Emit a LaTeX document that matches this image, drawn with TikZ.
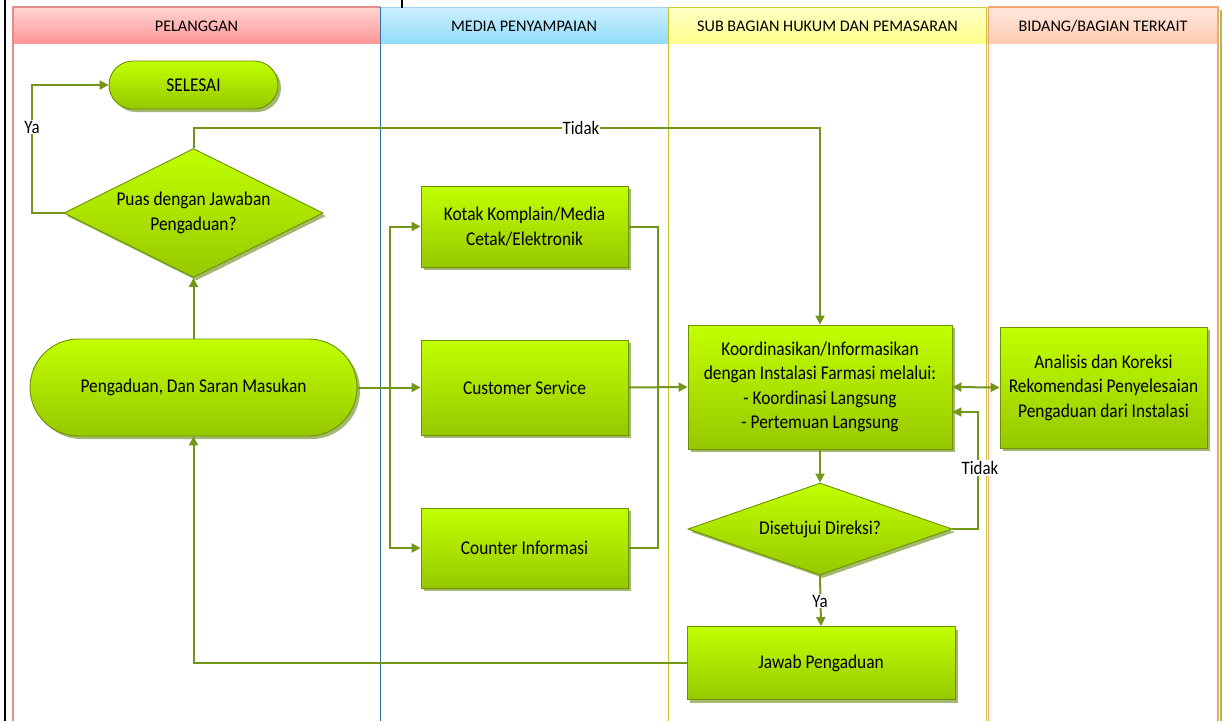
\documentclass[tikz,border=0pt]{standalone}
\usepackage{fontspec}
\setmainfont{Carlito}
\newfontfamily\nodefont[FakeStretch=0.89]{Carlito}
\usetikzlibrary{shapes.geometric,shapes.misc,shadows,arrows.meta}
\definecolor{lineg}{HTML}{72951A}
\definecolor{nodetop}{HTML}{C2FF00}
\definecolor{nodebot}{HTML}{96C800}
\definecolor{nodeborder}{HTML}{6F9000}
\definecolor{shadowg}{HTML}{A3B870}
\begin{document}
\begin{tikzpicture}[x=1pt,y=-1pt,
  nodefill/.style={top color=nodetop, bottom color=nodebot, draw=nodeborder, line width=0.9pt,
    drop shadow={shadow xshift=3pt, shadow yshift=-3pt, fill=shadowg, opacity=1},
    align=center, font=\nodefont\fontsize{19.5}{24.5}\selectfont, inner sep=2pt},
  procbox/.style={nodefill, rectangle},
  pill/.style={nodefill, rounded rectangle},
  dia/.style={nodefill, diamond, aspect=2, inner sep=0pt},
  arr/.style={draw=lineg, line width=2pt, -{Triangle[length=9pt,width=9pt]}},
  arrtwo/.style={draw=lineg, line width=2pt, {Triangle[length=9pt,width=9pt]}-{Triangle[length=9pt,width=9pt]}},
  ln/.style={draw=lineg, line width=2pt},
  lbl/.style={fill=white, inner sep=1pt, font=\nodefont\fontsize{19}{20}\selectfont},
  hdr/.style={font=\fontsize{16.2}{18}\selectfont}
]
\useasboundingbox (0,0) rectangle (1230,721);
\fill[white] (0,0) rectangle (1230,721);

% lanes
\shade[top color={rgb,255:red,255;green,212;blue,212}, bottom color={rgb,255:red,255;green,150;blue,150}] (13,7) rectangle (380,43);
\shade[top color={rgb,255:red,205;green,240;blue,255}, bottom color={rgb,255:red,145;green,220;blue,248}] (380,7) rectangle (668,43);
\shade[top color={rgb,255:red,255;green,255;blue,200}, bottom color={rgb,255:red,255;green,255;blue,140}] (668,7) rectangle (987,43);
\shade[top color={rgb,255:red,255;green,232;blue,222}, bottom color={rgb,255:red,255;green,204;blue,178}] (987,7) rectangle (1218,43);

\draw[draw={rgb,255:red,226;green,140;blue,140}, line width=1.4pt] (13,721) -- (13,7) -- (380,7);
\draw[draw={rgb,255:red,160;green,215;blue,240}, line width=1pt] (380,7) -- (668,7);
\draw[draw={rgb,255:red,50;green,110;blue,160}, line width=0.9pt] (380,7) -- (380,721);
\draw[draw={rgb,255:red,205;green,205;blue,60}, line width=1pt] (668,7) -- (987,7);
\draw[draw={rgb,255:red,195;green,195;blue,40}, line width=0.9pt] (668,7) -- (668,721);
\draw[draw={rgb,255:red,200;green,200;blue,60}, line width=1pt] (986,7) -- (986,721);
\draw[draw={rgb,255:red,160;green,195;blue,80}, line width=1.5pt] (1221,10) -- (1221,721);
\draw[draw={rgb,255:red,244;green,165;blue,112}, line width=1.5pt] (988.5,721) -- (988.5,7) -- (1218,7) -- (1218,721);

\node[hdr] (h1) at (196.5,26) {PELANGGAN};
\node[hdr] (h2) at (524,26) {MEDIA PENYAMPAIAN};
\node[hdr] (h3) at (827.5,26) {SUB BAGIAN HUKUM DAN PEMASARAN};
\node[hdr] (h4) at (1103,26) {BIDANG/BAGIAN TERKAIT};

% black frame bits
\draw[line width=2pt] (5,0) -- (5,721);
\draw[line width=2pt] (402,0) -- (402,8);

% nodes
\node[pill, minimum width=173, minimum height=48] (selesai) at (193.5,85) {SELESAI};
\node[dia, minimum width=259, minimum height=129] (puas) at (193.5,213) {Puas dengan Jawaban\\Pengaduan?};
\node[pill, minimum width=331, minimum height=97] (pengaduan) at (193.5,387.5) {Pengaduan, Dan Saran Masukan};
\node[procbox, minimum width=207, minimum height=81] (kotak) at (524.5,226.5) {Kotak Komplain/Media\\Cetak/Elektronik};
\node[procbox, minimum width=207, minimum height=95] (cs) at (524.5,387.5) {Customer Service};
\node[procbox, minimum width=207, minimum height=80] (counter) at (524.5,548) {Counter Informasi};
\node[procbox, minimum width=264, minimum height=124] (koord) at (820,387) {Koordinasikan/Informasikan\\dengan Instalasi Farmasi melalui:\\- Koordinasi Langsung\\- Pertemuan Langsung};
\node[procbox, minimum width=207, minimum height=121] (analisis) at (1103.5,387.5) {Analisis dan Koreksi\\Rekomendasi Penyelesaian\\Pengaduan dari Instalasi};
\node[dia, minimum width=264, minimum height=92] (setuju) at (820,529) {Disetujui Direksi?};
\node[procbox, minimum width=268, minimum height=73] (jawab) at (821,663) {Jawab Pengaduan};

% connectors
\coordinate (yac) at (32,85);
\draw[arr] (puas.west) -| (yac) -- (selesai.west);
\node[lbl] (ya1) at (32,127) {Ya};

\coordinate (tc) at (193.5,128);
\draw[arr] (puas.north) -- (tc) -| (koord.north);
\node[lbl] (tidak1) at (581,128) {Tidak};

\draw[arr] (pengaduan.north) -- (puas.south);
\draw[arr] (pengaduan.east) -- (cs.west);
\coordinate (bx) at (390,387.5);
\draw[arr] (bx) |- (kotak.west);
\draw[arr] (bx) |- (counter.west);
\coordinate (rx) at (658,387.5);
\draw[ln] (kotak.east) -| (rx);
\draw[ln] (counter.east) -| (rx);
\draw[arr] (cs.east) -- (koord.west);

\draw[arrtwo] (koord.east) -- (analisis.west);
\draw[arr] (koord.south) -- (setuju.north);
\coordinate (tx) at (978,412);
\draw[arr] (setuju.east) -| (tx) -- (koord.east |- tx);
\node[lbl] (tidak2) at (980,468) {Tidak};

\draw[arr] (setuju.south) -- (jawab.north);
\node[lbl] (ya2) at (820,601) {Ya};
\draw[arr] (jawab.west) -| (pengaduan.south);
\end{tikzpicture}
\end{document}
